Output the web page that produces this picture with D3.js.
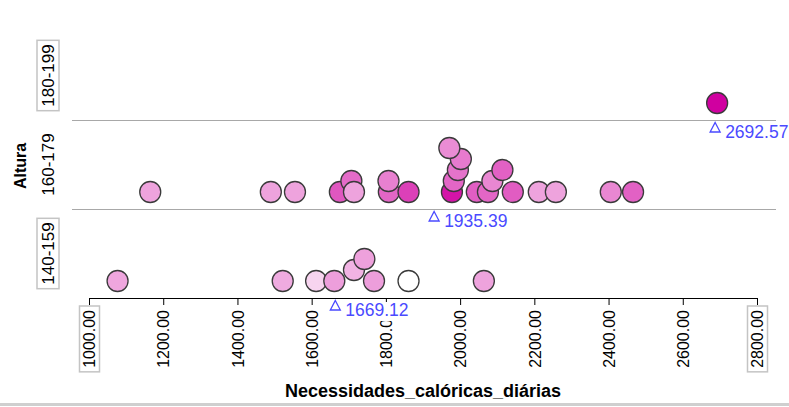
<!DOCTYPE html>
<html><head><meta charset="utf-8">
<script src="https://cdn.jsdelivr.net/npm/d3@7"></script>
<style>
body{margin:0;background:#fff}
svg{display:block;font-family:"Liberation Sans",Arial,sans-serif}
</style>
</head><body>
<svg id="c" width="789" height="407"></svg>
<script>
// ---- data ----
const categorias = ["180-199", "160-179", "140-159"];
const calorias = [
  2692.57,
  1165, 1490, 1555, 1676, 1707, 1714, 1808, 1807, 1861,
  1978, 1983, 1994, 2002, 1971, 2045, 2075, 2087, 2114, 2142, 2212, 2258, 2406, 2466,
  1077, 1522, 1612, 1661, 1714, 1742, 1768, 1861, 2064
];
const altura = [
  "180-199",
  "160-179","160-179","160-179","160-179","160-179","160-179","160-179","160-179","160-179",
  "160-179","160-179","160-179","160-179","160-179","160-179","160-179","160-179","160-179","160-179","160-179","160-179","160-179","160-179",
  "140-159","140-159","140-159","140-159","140-159","140-159","140-159","140-159","140-159"
];
const nivel = [
  0,
  0, 0, 0, 0, 1, 0, 0, 1, 0,
  0, 1, 2, 3, 4, 0, 0, 1, 2, 0, 0, 0, 0, 0,
  0, 0, 0, 0, 1, 2, 0, 0, 0
];
const intensidade = [
  1.0,
  0.36, 0.36, 0.36, 0.66, 0.58, 0.36, 0.6, 0.5, 0.75,
  0.92, 0.6, 0.55, 0.52, 0.45, 0.63, 0.6, 0.47, 0.62, 0.64, 0.36, 0.36, 0.47, 0.62,
  0.35, 0.33, 0.17, 0.38, 0.3, 0.37, 0.38, 0.0, 0.36
];
const medias = [2692.57, 1935.39, 1669.12];
const tickValores = [1000, 1200, 1400, 1600, 1800, 2000, 2200, 2400, 2600, 2800];
const tituloX = "Necessidades_calóricas_diárias";
const tituloY = "Altura";

// ---- chart ----
const svg = d3.select("#c");
const x = d3.scaleLinear().domain([1000, 2800]).range([89, 757]);
const y = d3.scaleBand().domain(categorias).range([31, 298]);
const nivelY = d3.scaleLinear().domain([0, 1]).range([0, -11]);
const cor = d3.scaleLinear().domain([0, 1]).range(["#ffffff", "#d000a0"]).interpolate(d3.interpolateRgb);

// bottom grey bar
svg.append("rect").attr("x", 0).attr("y", 403).attr("width", 789).attr("height", 3).attr("fill", "#cfcfcf");

// band separators
svg.selectAll("line.sep").data(categorias.slice(1)).join("line")
  .attr("class", "sep")
  .attr("x1", 72).attr("x2", 776)
  .attr("y1", d => y(d) + 0.5).attr("y2", d => y(d) + 0.5)
  .attr("stroke", "#a8a8a8").attr("stroke-width", 1);

// x axis
const eixo = svg.append("g").attr("transform", "translate(0,298)")
  .call(d3.axisBottom(x).tickValues(tickValores).tickSize(7).tickSizeOuter(0).tickFormat(d3.format(".2f")));
eixo.select(".domain").attr("stroke", "#000");
eixo.selectAll(".tick line").attr("stroke", "#000");
eixo.selectAll(".tick text")
  .attr("y", 0).attr("x", -12).attr("dy", "0.36em")
  .attr("transform", "rotate(-90)")
  .style("text-anchor", "end")
  .style("font-family", "'Liberation Sans', Arial, sans-serif")
  .style("font-size", "16px")
  .attr("fill", "#000");
eixo.selectAll(".tick").each(function(d, i, n) {
  if (i === 0 || i === n.length - 1) {
    const t = d3.select(this).select("text");
    const len = t.node().getComputedTextLength();
    d3.select(this).insert("rect", "text")
      .attr("x", -10).attr("y", 8).attr("width", 20).attr("height", len + 8)
      .attr("fill", "none").attr("stroke", "#c4c4c4").attr("stroke-width", 1.5);
  }
});

// y category labels
const rot = svg.append("g");
categorias.forEach((c, i) => {
  const cy = y(c) + y.bandwidth() / 2;
  const g = rot.append("g").attr("transform", `translate(48,${cy}) rotate(-90)`);
  const t = g.append("text").attr("text-anchor", "middle").attr("dy", "0.36em")
    .style("font-size", "17px").attr("fill", "#000").text(c);
  if (i === 0 || i === categorias.length - 1) {
    const len = t.node().getComputedTextLength();
    g.insert("rect", "text").attr("x", -len / 2 - 4).attr("y", -11).attr("width", len + 8).attr("height", 22)
      .attr("fill", "none").attr("stroke", "#c4c4c4").attr("stroke-width", 1.5);
  }
});

// axis titles
svg.append("text").attr("transform", "translate(20,166) rotate(-90)")
  .attr("text-anchor", "middle").attr("dy", "0.36em")
  .style("font-size", "16px").style("font-weight", "bold").text(tituloY);
svg.append("text").attr("x", 423).attr("y", 397)
  .attr("text-anchor", "middle")
  .style("font-size", "18px").style("font-weight", "bold").text(tituloX);

// points
const pontos = calorias.map((v, i) => ({ v, a: altura[i], n: nivel[i], c: intensidade[i] }));
svg.append("g").selectAll("circle").data(pontos).join("circle")
  .attr("cx", d => x(d.v))
  .attr("cy", d => y(d.a) + y.bandwidth() - 17 + nivelY(d.n))
  .attr("r", 10.5)
  .attr("fill", d => cor(d.c))
  .attr("stroke", "#3a3a3a").attr("stroke-width", 1.3);

// mean markers
const mg = svg.append("g");
categorias.forEach((c, i) => {
  const m = medias[i];
  const base = y(c) + y.bandwidth();
  const mx = x(m);
  mg.append("path")
    .attr("d", `M${mx - 2},${base + 2.5}L${mx + 3},${base + 12}L${mx - 7},${base + 12}Z`)
    .attr("fill", "none").attr("stroke", "#4a4aff").attr("stroke-width", 1.3);
  const t = mg.append("text").attr("x", mx + 8).attr("y", base + 18)
    .style("font-size", "17.5px").attr("fill", "#4a4aff").text(d3.format(".2f")(m));
  const bb = t.node().getBBox();
  mg.insert("rect", "text").attr("x", bb.x - 1).attr("y", base + 4).attr("width", bb.width + 2).attr("height", bb.y + bb.height - base - 3)
    .attr("fill", "#fff");
});
</script>
</body></html>
